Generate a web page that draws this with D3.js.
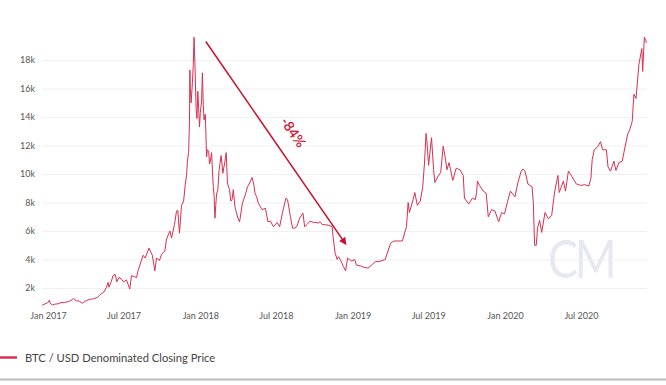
<!DOCTYPE html>
<html>
<head>
<meta charset="utf-8">
<script src="https://cdn.jsdelivr.net/npm/d3@7/dist/d3.min.js"></script>
<style>
  body { margin: 0; background: #fff; }
  svg { display: block; font-family: Lato, "Open Sans", sans-serif; }
</style>
</head>
<body>
<div id="chart"></div>
<script>
// closing price (USD)
var dates = [
  "2016-12-18","2016-12-25","2016-12-31","2017-01-04","2017-01-07","2017-01-12","2017-01-18","2017-01-25",
  "2017-02-01","2017-02-10","2017-02-20","2017-02-28","2017-03-03","2017-03-10","2017-03-17","2017-03-24",
  "2017-03-31","2017-04-10","2017-04-20","2017-04-30","2017-05-07","2017-05-15","2017-05-21","2017-05-25",
  "2017-05-27","2017-06-01","2017-06-06","2017-06-11","2017-06-15","2017-06-20","2017-06-27","2017-07-01",
  "2017-07-08","2017-07-16","2017-07-20","2017-07-28","2017-08-01","2017-08-05","2017-08-12","2017-08-17",
  "2017-08-22","2017-08-31","2017-09-03","2017-09-08","2017-09-14","2017-09-18","2017-09-25","2017-09-30",
  "2017-10-08","2017-10-12","2017-10-20","2017-10-24","2017-10-31","2017-11-05","2017-11-08","2017-11-12",
  "2017-11-17","2017-11-22","2017-11-26","2017-11-29","2017-12-01","2017-12-04","2017-12-06","2017-12-07",
  "2017-12-08","2017-12-10","2017-12-13","2017-12-15","2017-12-17","2017-12-19","2017-12-22","2017-12-24",
  "2017-12-26","2017-12-28","2017-12-30","2018-01-01","2018-01-04","2018-01-06","2018-01-08","2018-01-10",
  "2018-01-13","2018-01-16","2018-01-18","2018-01-21","2018-01-23","2018-01-25","2018-01-28","2018-02-01",
  "2018-02-03","2018-02-05","2018-02-07","2018-02-09","2018-02-12","2018-02-15","2018-02-20","2018-02-24",
  "2018-03-01","2018-03-04","2018-03-07","2018-03-12","2018-03-15","2018-03-18","2018-03-21","2018-03-25",
  "2018-04-01","2018-04-05","2018-04-12","2018-04-16","2018-04-20","2018-04-24","2018-04-28","2018-05-05",
  "2018-05-09","2018-05-12","2018-05-16","2018-05-20","2018-05-29","2018-06-06","2018-06-12","2018-06-18",
  "2018-06-25","2018-07-04","2018-07-10","2018-07-17","2018-07-25","2018-07-29","2018-08-05","2018-08-10",
  "2018-08-14","2018-08-20","2018-08-27","2018-09-04","2018-09-08","2018-09-15","2018-09-21","2018-09-29",
  "2018-10-05","2018-10-10","2018-10-15","2018-10-20","2018-10-25","2018-11-05","2018-11-13","2018-11-15",
  "2018-11-20","2018-11-25","2018-11-28","2018-12-04","2018-12-10","2018-12-15","2018-12-20","2018-12-24",
  "2018-12-30","2019-01-06","2019-01-10","2019-01-20","2019-01-28","2019-02-07","2019-02-17","2019-02-24",
  "2019-03-05","2019-03-20","2019-04-02","2019-04-10","2019-04-20","2019-04-30","2019-05-10","2019-05-14",
  "2019-05-17","2019-05-25","2019-05-30","2019-06-05","2019-06-12","2019-06-18","2019-06-22","2019-06-26",
  "2019-06-28","2019-07-02","2019-07-09","2019-07-14","2019-07-17","2019-07-24","2019-07-31","2019-08-06",
  "2019-08-10","2019-08-15","2019-08-20","2019-08-29","2019-09-06","2019-09-15","2019-09-23","2019-09-26",
  "2019-10-06","2019-10-15","2019-10-22","2019-10-25","2019-10-27","2019-11-01","2019-11-10","2019-11-17",
  "2019-11-22","2019-11-30","2019-12-08","2019-12-17","2019-12-24","2019-12-31","2020-01-07","2020-01-14",
  "2020-01-25","2020-02-01","2020-02-09","2020-02-13","2020-02-18","2020-02-25","2020-03-06","2020-03-09",
  "2020-03-12","2020-03-16","2020-03-19","2020-03-24","2020-03-29","2020-04-06","2020-04-14","2020-04-22",
  "2020-04-29","2020-05-07","2020-05-10","2020-05-20","2020-05-25","2020-06-01","2020-06-10","2020-06-20",
  "2020-07-01","2020-07-10","2020-07-20","2020-07-25","2020-07-28","2020-08-02","2020-08-10","2020-08-17",
  "2020-08-22","2020-08-31","2020-09-04","2020-09-10","2020-09-18","2020-09-23","2020-09-30","2020-10-08",
  "2020-10-12","2020-10-21","2020-10-26","2020-11-01","2020-11-05","2020-11-10","2020-11-17","2020-11-24",
  "2020-11-26","2020-11-30","2020-12-03","2020-12-05"
];
var prices = [
  790, 890, 960, 1130, 900, 810, 870, 890,
  970, 990, 1050, 1190, 1260, 1100, 1080, 930,
  1070, 1200, 1240, 1350, 1560, 1720, 2050, 2400,
  2050, 2400, 2870, 2960, 2440, 2750, 2590, 2420,
  2570, 1930, 2860, 2790, 2720, 3230, 3860, 4300,
  4100, 4800, 4600, 4300, 3200, 4100, 3930, 4350,
  4600, 5430, 6000, 5500, 6450, 7400, 7450, 5850,
  7800, 8100, 9300, 9900, 10900, 11500, 13700, 17300,
  16000, 15000, 16400, 17600, 19600, 17800, 14500, 13900,
  15800, 14600, 13300, 14300, 15100, 17100, 14900, 13800,
  14200, 11200, 11700, 11600, 10700, 10900, 11500, 9100,
  8500, 6900, 7800, 8600, 8900, 10300, 11300, 10050,
  10900, 11500, 9350, 8900, 8100, 8200, 8900, 7700,
  6900, 6650, 7950, 8300, 8650, 9100, 9300, 9750,
  9300, 8650, 8400, 7950, 7500, 7600, 6650, 6700,
  6300, 6600, 6300, 7300, 8300, 8200, 7000, 6200,
  6200, 6300, 6900, 7250, 6300, 6500, 6700, 6600,
  6600, 6550, 6650, 6450, 6450, 6400, 6300, 5600,
  4450, 4000, 4200, 3900, 3500, 3200, 4100, 4000,
  3900, 4000, 3600, 3550, 3450, 3400, 3650, 3850,
  3850, 4000, 5150, 5300, 5300, 5300, 6300, 8000,
  7300, 8100, 8700, 7800, 8100, 9100, 10700, 12850,
  12300, 10600, 12550, 10300, 9400, 9800, 10100, 11950,
  11300, 10300, 10800, 9550, 10400, 10300, 9900, 8300,
  7900, 8300, 8200, 8700, 9500, 9200, 8800, 8650,
  7000, 7500, 7400, 6650, 7300, 7200, 8050, 8800,
  8400, 9400, 10200, 10350, 10200, 9300, 9100, 7950,
  5000, 5000, 6200, 6750, 5900, 7300, 6850, 7100,
  8750, 9900, 8700, 9500, 8800, 10200, 9800, 9300,
  9200, 9250, 9150, 9700, 11000, 11700, 11900, 12270,
  11700, 11700, 10500, 10200, 10900, 10250, 10800, 10900,
  11500, 12800, 13100, 13700, 15600, 15300, 17700, 18800,
  17200, 19600, 19400, 19200
];
var yTicks = [2000, 4000, 6000, 8000, 10000, 12000, 14000, 16000, 18000];
var xTicks = ["2017-01-01","2017-07-01","2018-01-01","2018-07-01","2019-01-01","2019-07-01","2020-01-01","2020-07-01"];
var seriesName = "BTC / USD Denominated Closing Price";
// drawdown annotation: [date, price] from / to
var dropFrom = ["2018-01-14", 19300];
var dropTo = ["2018-12-15", 5100];
var dropLabel = "-84%";

var svgWidth = 666;
var svgHeight = 385;
var parse = d3.utcParse("%Y-%m-%d");

var data = dates.map(function(d, i) { return { date: parse(d), price: prices[i] }; });

var svg = d3.select("#chart")
  .append("svg")
  .attr("width", svgWidth)
  .attr("height", svgHeight);

var x = d3.scaleUtc()
  .domain([parse("2017-01-01"), parse("2021-01-01")])
  .range([48, 657.7]);

var y = d3.scaleLinear()
  .domain([0, 20000])
  .range([316.5, 31.5]);

// watermark
svg.append("text")
  .attr("transform", "translate(548,278) scale(0.85,1)")
  .attr("font-size", 53)
  .attr("font-weight", 400)
  .attr("letter-spacing", -4)
  .attr("fill", "#e7e9f0")
  .text("CM");

// grid lines + y labels
var yAxis = svg.append("g")
  .attr("transform", "translate(42,0)")
  .call(d3.axisRight(y).tickValues(yTicks).tickSize(605).tickFormat(function(d) { return (d / 1000) + "k"; }));
yAxis.select(".domain").remove();
yAxis.selectAll(".tick line").attr("stroke", "#f0f0f0");
yAxis.selectAll(".tick text")
  .attr("x", -7)
  .attr("text-anchor", "end")
  .attr("font-size", 9)
  .attr("font-family", "Lato, sans-serif")
  .attr("fill", "#555");

// x labels
var xAxis = svg.append("g")
  .attr("transform", "translate(0,310)")
  .call(d3.axisBottom(x).tickValues(xTicks.map(parse)).tickSize(0).tickFormat(d3.utcFormat("%b %Y")));
xAxis.select(".domain").remove();
xAxis.selectAll(".tick text")
  .attr("font-size", 9)
  .attr("font-family", "Lato, sans-serif")
  .attr("fill", "#555");

// price line
var line = d3.line()
  .x(function(d) { return x(d.date); })
  .y(function(d) { return y(d.price); });

svg.append("path")
  .datum(data)
  .attr("fill", "none")
  .attr("stroke", "#d8304f")
  .attr("stroke-width", 1)
  .attr("stroke-linejoin", "round")
  .attr("d", line);

// arrow
svg.append("defs").append("marker")
  .attr("id", "head")
  .attr("viewBox", "0 0 10 10")
  .attr("refX", 8)
  .attr("refY", 5)
  .attr("markerWidth", 5)
  .attr("markerHeight", 5)
  .attr("orient", "auto")
  .append("path")
  .attr("d", "M0,0L10,5L0,10z")
  .attr("fill", "#c8102e");

var ax1 = x(parse(dropFrom[0])), ay1 = y(dropFrom[1]);
var ax2 = x(parse(dropTo[0])), ay2 = y(dropTo[1]);
svg.append("line")
  .attr("x1", ax1).attr("y1", ay1)
  .attr("x2", ax2).attr("y2", ay2)
  .attr("stroke", "#c8102e")
  .attr("stroke-width", 1.5)
  .attr("marker-end", "url(#head)");

var angle = Math.atan2(ay2 - ay1, ax2 - ax1) * 180 / Math.PI;
svg.append("text")
  .attr("transform", "translate(292,133) rotate(" + angle + ")")
  .attr("text-anchor", "middle")
  .attr("dominant-baseline", "middle")
  .attr("font-size", 14)
  .attr("font-weight", 600)
  .attr("fill", "#d0102e")
  .text(dropLabel);

// legend
svg.append("line")
  .attr("x1", 0).attr("x2", 17)
  .attr("y1", 357.5).attr("y2", 357.5)
  .attr("stroke", "#d8304f")
  .attr("stroke-width", 2.5);

svg.append("text")
  .attr("x", 25)
  .attr("y", 361.5)
  .attr("font-size", 11.2)
  .attr("fill", "#444")
  .text(seriesName);

// bottom rule
svg.append("line")
  .attr("x1", 0).attr("x2", svgWidth)
  .attr("y1", 379.5).attr("y2", 379.5)
  .attr("stroke", "#bcbcbc")
  .attr("stroke-width", 2);
</script>
</body>
</html>
